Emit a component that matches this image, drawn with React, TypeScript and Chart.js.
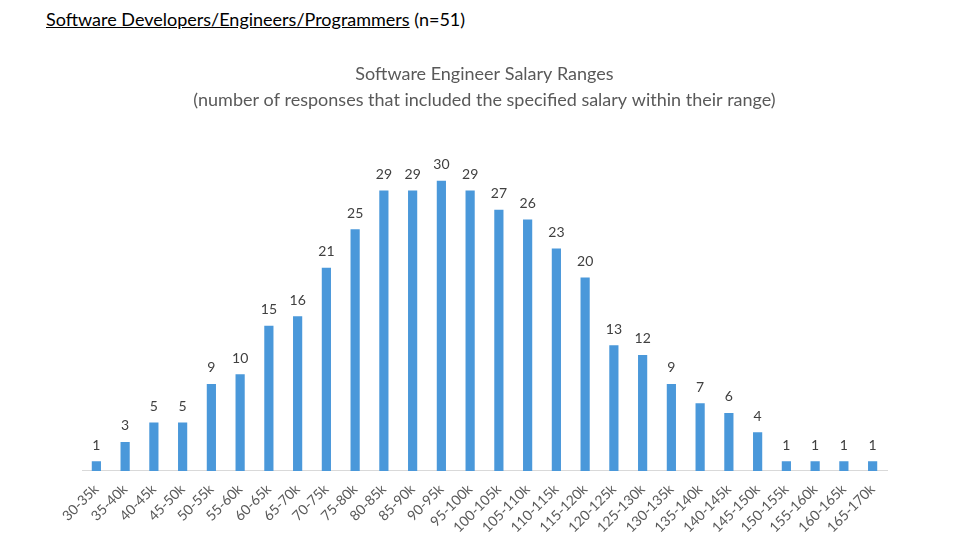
import React, { useEffect, useRef } from 'react';
import Chart from 'chart.js/auto';

const salaryRanges = [
  '30-35k', '35-40k', '40-45k', '45-50k', '50-55k', '55-60k', '60-65k', '65-70k',
  '70-75k', '75-80k', '80-85k', '85-90k', '90-95k', '95-100k', '100-105k', '105-110k',
  '110-115k', '115-120k', '120-125k', '125-130k', '130-135k', '135-140k', '140-145k',
  '145-150k', '150-155k', '155-160k', '160-165k', '165-170k',
];
const responseCounts = [
  1, 3, 5, 5, 9, 10, 15, 16, 21, 25, 29, 29, 30, 29, 27, 26, 23, 20, 13, 12, 9, 7, 6, 4,
  1, 1, 1, 1,
];
const chartTitle = [
  'Software Engineer Salary Ranges',
  '(number of responses that included the specified salary within their range)',
];

const FONT = "Lato, 'Open Sans', sans-serif";

// draws the count above each bar, like Excel's data labels
const barValueLabels = {
  id: 'barValueLabels',
  afterDatasetsDraw(chart: any) {
    const { ctx } = chart;
    const meta = chart.getDatasetMeta(0);
    ctx.save();
    ctx.fillStyle = '#404040';
    ctx.font = `14px ${FONT}`;
    ctx.textAlign = 'center';
    ctx.textBaseline = 'bottom';
    meta.data.forEach((bar: any, i: number) => {
      ctx.fillText(String(responseCounts[i]), bar.x, bar.y - 9);
    });
    ctx.restore();
  },
};

const App: React.FC = () => {
  const canvasRef = useRef<HTMLCanvasElement>(null);

  useEffect(() => {
    if (!canvasRef.current) return;
    const chart = new Chart(canvasRef.current, {
      type: 'bar',
      data: {
        labels: salaryRanges,
        datasets: [
          {
            data: responseCounts,
            backgroundColor: '#4a98da',
            categoryPercentage: 1,
            barPercentage: 0.32,
          },
        ],
      },
      options: {
        animation: false,
        responsive: true,
        maintainAspectRatio: false,
        layout: { padding: { left: 82, right: 76, top: 62, bottom: 17 } },
        plugins: {
          legend: { display: false },
          tooltip: { enabled: false },
          title: {
            display: true,
            text: chartTitle,
            color: '#595959',
            font: { family: FONT, size: 18, weight: 'normal', lineHeight: 1.4 },
            padding: { top: 0, bottom: 20 },
          },
        },
        scales: {
          x: {
            grid: { display: false },
            border: { color: '#d9d9d9', width: 1 },
            ticks: {
              color: '#595959',
              font: { family: FONT, size: 14 },
              minRotation: 45,
              maxRotation: 45,
              autoSkip: false,
              padding: 2,
            },
          },
          y: {
            display: false,
            min: 0,
            max: 35,
          },
        },
      },
      plugins: [barValueLabels],
    });
    return () => chart.destroy();
  }, []);

  return (
    <div style={{ position: 'fixed', left: 0, top: 0, width: 963, height: 555, background: '#fff' }}>
      <div
        style={{
          position: 'absolute',
          left: 46,
          top: 8,
          fontFamily: FONT,
          fontSize: 18,
          color: '#000',
          whiteSpace: 'nowrap',
        }}
      >
        <span style={{ textDecoration: 'underline' }}>Software Developers/Engineers/Programmers</span> (n=51)
      </div>
      <canvas ref={canvasRef} style={{ position: 'absolute', left: 0, top: 0, width: 963, height: 555 }} />
    </div>
  );
};

export default App;
